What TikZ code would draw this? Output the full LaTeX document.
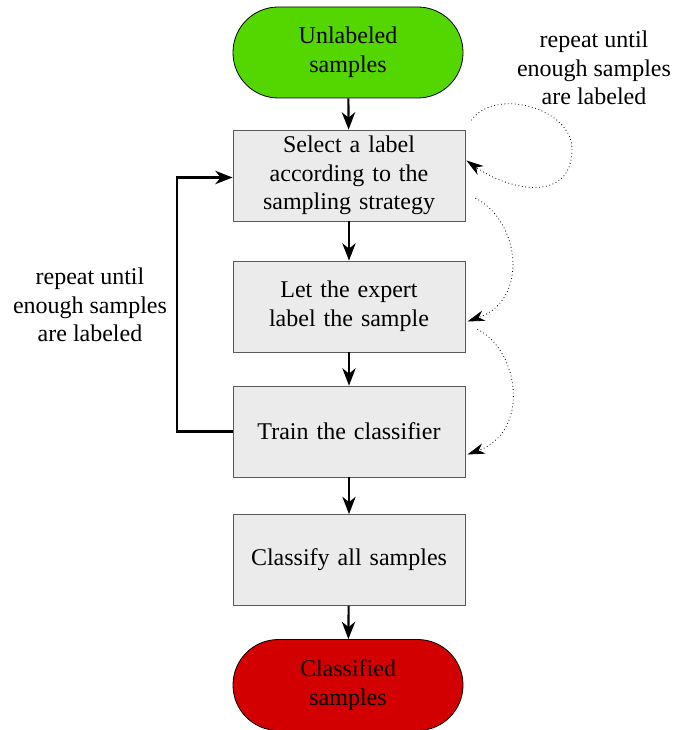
\documentclass[tikz,border=0pt]{standalone}
\usepackage{fontspec}
\setmainfont{Liberation Serif}
\usetikzlibrary{arrows.meta,calc}
\definecolor{startgreen}{RGB}{84,214,0}
\definecolor{endred}{RGB}{210,0,0}
\definecolor{boxfill}{RGB}{235,235,235}
\definecolor{boxline}{RGB}{90,90,90}
\begin{document}
\begin{tikzpicture}[x=0.75pt,y=-0.75pt,
  every node/.style={font=\fontsize{18}{21.5}\selectfont, align=center},
  stepbox/.style={draw=boxline, fill=boxfill, line width=0.6pt, minimum width=174pt, minimum height=68.25pt, inner sep=2pt, text width=165pt},
  term/.style={draw=black, line width=0.6pt, rounded corners=34pt, minimum width=172.5pt, minimum height=68.25pt},
  flow/.style={line width=1.6pt, -{Stealth[length=13pt,width=10pt,inset=4pt]}},
  dotflow/.style={line width=0.6pt, dotted, -{Stealth[length=13pt,width=8pt,inset=4pt]}},
  lbl/.style={font=\fontsize{18}{21.5}\selectfont}
]
\useasboundingbox (0,0) rectangle (685,730);
\node[term, fill=startgreen] (start) at (348,52.5) {Unlabeled\\samples};
\node[stepbox] (b1) at (349,175.5) {Select a label\\according to the\\sampling strategy};
\node[stepbox] (b2) at (349,306.5) {Let the expert\\label the sample};
\node[stepbox] (b3) at (349,431.5) {Train the classifier};
\node[stepbox] (b4) at (349,560) {Classify all samples};
\node[term, fill=endred] (stop) at (348,685) {Classified\\samples};

\draw[flow] (start) -- (b1);
\draw[flow] (b1) -- (b2);
\draw[flow] (b2) -- (b3);
\draw[flow] (b3) -- (b4);
\draw[flow] (b4) -- (stop);

\coordinate (loopx) at (177,0);
\draw[flow] (b3.west) -| (loopx |- b2.center) |- ([yshift=-1.5pt]b1.west);
\node[lbl] (leftlbl) at (90,305) {repeat until\\enough samples\\are labeled};
\node[lbl] (rightlbl) at (594,68) {repeat until\\enough samples\\are labeled};

\coordinate (loopr) at (572,149);
\draw[dotflow] ([xshift=4.5pt,yshift=7pt]b1.north east) to[out=55,in=90] (loopr) to[out=-90,in=-35,looseness=1.3] ([xshift=0.75pt,yshift=11.25pt]b1.east);
\draw[dotflow] ([xshift=7.5pt,yshift=-17pt]b1.east) .. controls +(33pt,-16.5pt) and +(47pt,16.5pt) .. ([xshift=1.5pt,yshift=-11.25pt]b2.east);
\draw[dotflow] ([xshift=9pt,yshift=-17pt]b2.east) .. controls +(32pt,-16.5pt) and +(47pt,17pt) .. ([xshift=1.5pt,yshift=-17.25pt]b3.east);
\end{tikzpicture}
\end{document}
